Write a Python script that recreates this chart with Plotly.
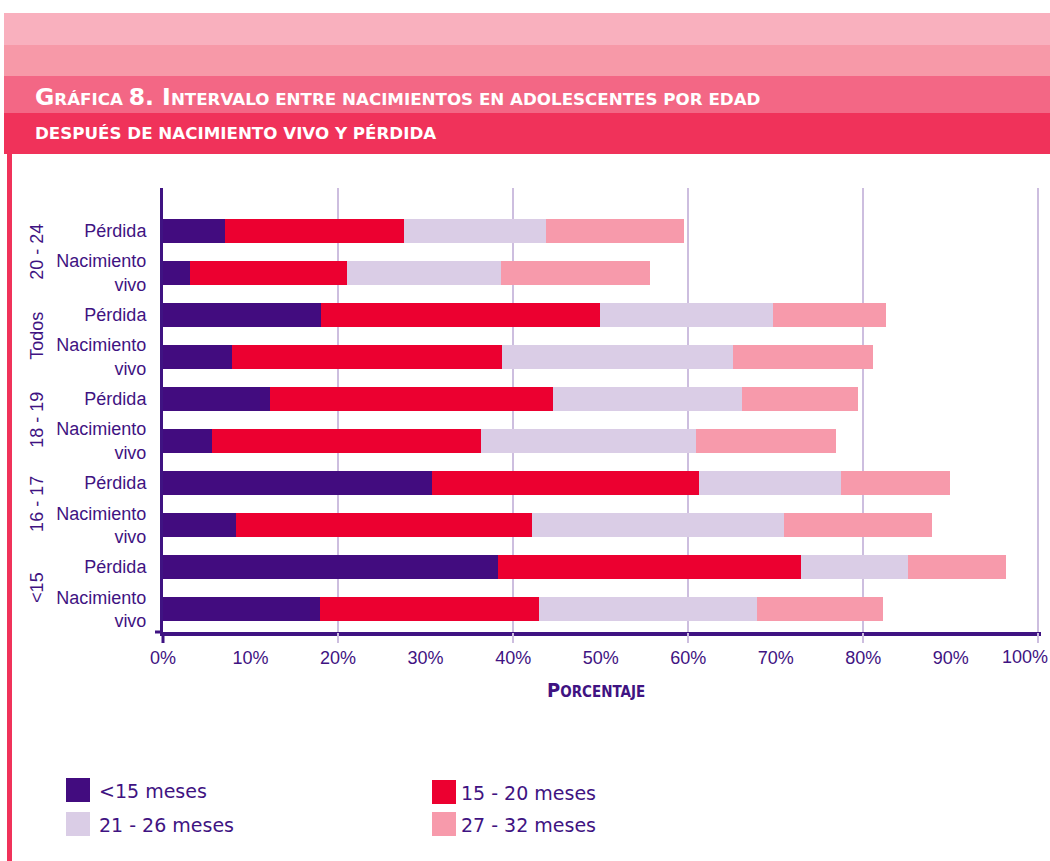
import plotly.graph_objects as go

# ---------------- data ----------------
groups = ["20 - 24", "Todos", "18 - 19", "16 - 17", "<15"]
row_types = ["Pérdida", "Nacimiento<br>vivo"]
series_names = ["<15 meses", "15 - 20 meses", "21 - 26 meses", "27 - 32 meses"]
# rows listed top to bottom: (group, Pérdida), (group, Nacimiento vivo) ...
lt15 = [7.1, 3.1, 18.1, 7.9, 12.2, 5.6, 30.7, 8.3, 38.3, 17.9]
m15_20 = [20.4, 17.9, 31.8, 30.8, 32.3, 30.7, 30.5, 33.8, 34.6, 25.0]
m21_26 = [16.2, 17.6, 19.8, 26.4, 21.6, 24.6, 16.3, 28.8, 12.2, 25.0]
m27_32 = [15.8, 17.0, 12.9, 16.0, 13.3, 16.0, 12.4, 16.9, 11.2, 14.4]
x_tickvals = [0, 10, 20, 30, 40, 50, 60, 70, 80, 90, 100]
x_ticktext = ["0%", "10%", "20%", "30%", "40%", "50%", "60%", "70%", "80%", "90%", "100%"]
grid_vals = [20, 40, 60, 80, 100]

categories = [f"{g}|{r}" for g in groups for r in row_types]
cat_labels = [r for g in groups for r in row_types]

# ---------------- style ----------------
colors = ["#420C7F", "#EC0030", "#DACDE6", "#F79AAB"]
PURPLE = "#3F1382"
W, H = 1050, 861
L, R, T, B = 163, 9, 188, 229
PW, PH = W - L - R, H - T - B
X_RANGE = [0, 100.3]


def px(x):
    return (x - L) / PW


def py(y):
    return (H - B - y) / PH


fig = go.Figure()
for name, vals, col in zip(series_names, [lt15, m15_20, m21_26, m27_32], colors):
    fig.add_trace(go.Bar(
        y=categories, x=vals, name=name, orientation="h",
        marker=dict(color=col, line=dict(width=0)),
        showlegend=False, xaxis="x", yaxis="y",
    ))
# empty helper trace so the overlaid grid axis is rendered
fig.add_trace(go.Scatter(x=[None], y=[None], xaxis="x2", yaxis="y",
                         mode="markers", showlegend=False, hoverinfo="skip"))

shapes = []
# header bands
bands = [(13, 45, "#F9B0BE"), (45, 76, "#F799A8"), (76, 113, "#F36785"), (113, 154, "#F0325A")]
for y0, y1, c in bands:
    shapes.append(dict(type="rect", xref="paper", yref="paper",
                       x0=px(4), x1=px(1050), y0=py(y1), y1=py(y0),
                       fillcolor=c, line=dict(width=0), layer="below"))
# left vertical accent line
shapes.append(dict(type="rect", xref="paper", yref="paper",
                   x0=px(7), x1=px(12), y0=py(861), y1=py(154),
                   fillcolor="#F0325A", line=dict(width=0), layer="below"))
# axis extension ticks at origin
shapes.append(dict(type="line", xref="paper", yref="paper",
                   x0=0, x1=0, y0=0, y1=py(643),
                   line=dict(color=PURPLE, width=3)))
shapes.append(dict(type="line", xref="paper", yref="paper",
                   x0=px(155), x1=0, y0=0, y1=0,
                   line=dict(color=PURPLE, width=3)))

# legend (manual)
leg_pos = [(66, 778, 97), (432, 780, 459), (66, 812, 97), (432, 812, 459)]
annotations = []
for idx, (sx, sy, tx) in enumerate(leg_pos):
    shapes.append(dict(type="rect", xref="paper", yref="paper",
                       x0=px(sx), x1=px(sx + 24), y0=py(sy + 24), y1=py(sy),
                       fillcolor=colors[idx], line=dict(width=0)))
    annotations.append(dict(xref="paper", yref="paper", x=px(tx), y=py(sy + 13),
                            xanchor="left", yanchor="middle", showarrow=False,
                            text=series_names[idx].replace("<", "&lt;"),
                            font=dict(family="DejaVu Sans", size=19, color=PURPLE)))

# group labels (rotated)
for i, g in enumerate(groups):
    annotations.append(dict(xref="paper", yref="y", x=px(37), y=2 * i + 0.5,
                            xanchor="center", yanchor="middle", showarrow=False,
                            textangle=-90, text=g.replace("<", "&lt;"),
                            font=dict(family="Liberation Sans", size=18, color=PURPLE)))

# last tick label sits at the page edge (the axis would otherwise hide it)
annotations.append(dict(xref="paper", yref="paper", x=px(1050), y=py(657),
                        xanchor="right", yanchor="middle", showarrow=False,
                        text=x_ticktext[-1],
                        font=dict(family="Liberation Sans", size=18, color=PURPLE)))


def smallcaps(parts):
    out = ""
    for big, small in parts:
        if big:
            out += f"<span style='font-size:23.5px'>{big}</span>"
        if small:
            out += f"<span style='font-size:16.7px'>{small}</span>"
    return out


title1 = smallcaps([("G", "RÁFICA "), ("8. I", "NTERVALO ENTRE NACIMIENTOS EN ADOLESCENTES POR EDAD")])
title2 = smallcaps([("", "DESPUÉS DE NACIMIENTO VIVO Y PÉRDIDA")])
annotations.append(dict(xref="paper", yref="paper", x=px(33), y=py(97), xanchor="left",
                        yanchor="middle", showarrow=False, text="<b>" + title1 + "</b>",
                        font=dict(family="DejaVu Sans", size=17, color="white")))
annotations.append(dict(xref="paper", yref="paper", x=px(33), y=py(133), xanchor="left",
                        yanchor="middle", showarrow=False, text="<b>" + title2 + "</b>",
                        font=dict(family="DejaVu Sans", size=17, color="white")))
# x axis title
annotations.append(dict(xref="paper", yref="paper", x=px(596), y=py(690), xanchor="center",
                        yanchor="middle", showarrow=False,
                        text="<b><span style='font-size:20px'>P</span>ORCENTAJE</b>",
                        font=dict(family="DejaVu Sans Condensed, DejaVu Sans", size=15, color=PURPLE)))

fig.update_layout(
    width=W, height=H,
    margin=dict(l=L, r=R, t=T, b=B, pad=0),
    paper_bgcolor="white", plot_bgcolor="white",
    barmode="stack", bargap=0.435,
    showlegend=False,
    xaxis=dict(range=X_RANGE, tickvals=x_tickvals[:-1], ticktext=x_ticktext[:-1],
               showgrid=False, zeroline=False, ticks="", ticklabelstandoff=7,
               showline=True, linecolor=PURPLE, linewidth=3.5,
               tickfont=dict(family="Liberation Sans", size=18, color=PURPLE)),
    xaxis2=dict(range=X_RANGE, overlaying="x", anchor="y", side="bottom",
                tickvals=grid_vals, showticklabels=False, showgrid=True,
                gridcolor="#CDBEDF", gridwidth=2, ticks="outside", ticklen=10,
                tickcolor="#CDBEDF", tickwidth=2, showline=False, zeroline=False),
    yaxis=dict(type="category", categoryorder="array", categoryarray=categories,
               range=[9.55, -1.02], tickvals=categories, ticktext=cat_labels,
               ticks="", ticklabelstandoff=10, showgrid=False, zeroline=False,
               showline=True, linecolor=PURPLE, linewidth=3,
               tickfont=dict(family="Liberation Sans", size=18, color=PURPLE)),
    shapes=shapes,
    annotations=annotations,
)

fig.write_html("out.html", config={"displayModeBar": False},
               post_script="document.body.style.margin='0';")
